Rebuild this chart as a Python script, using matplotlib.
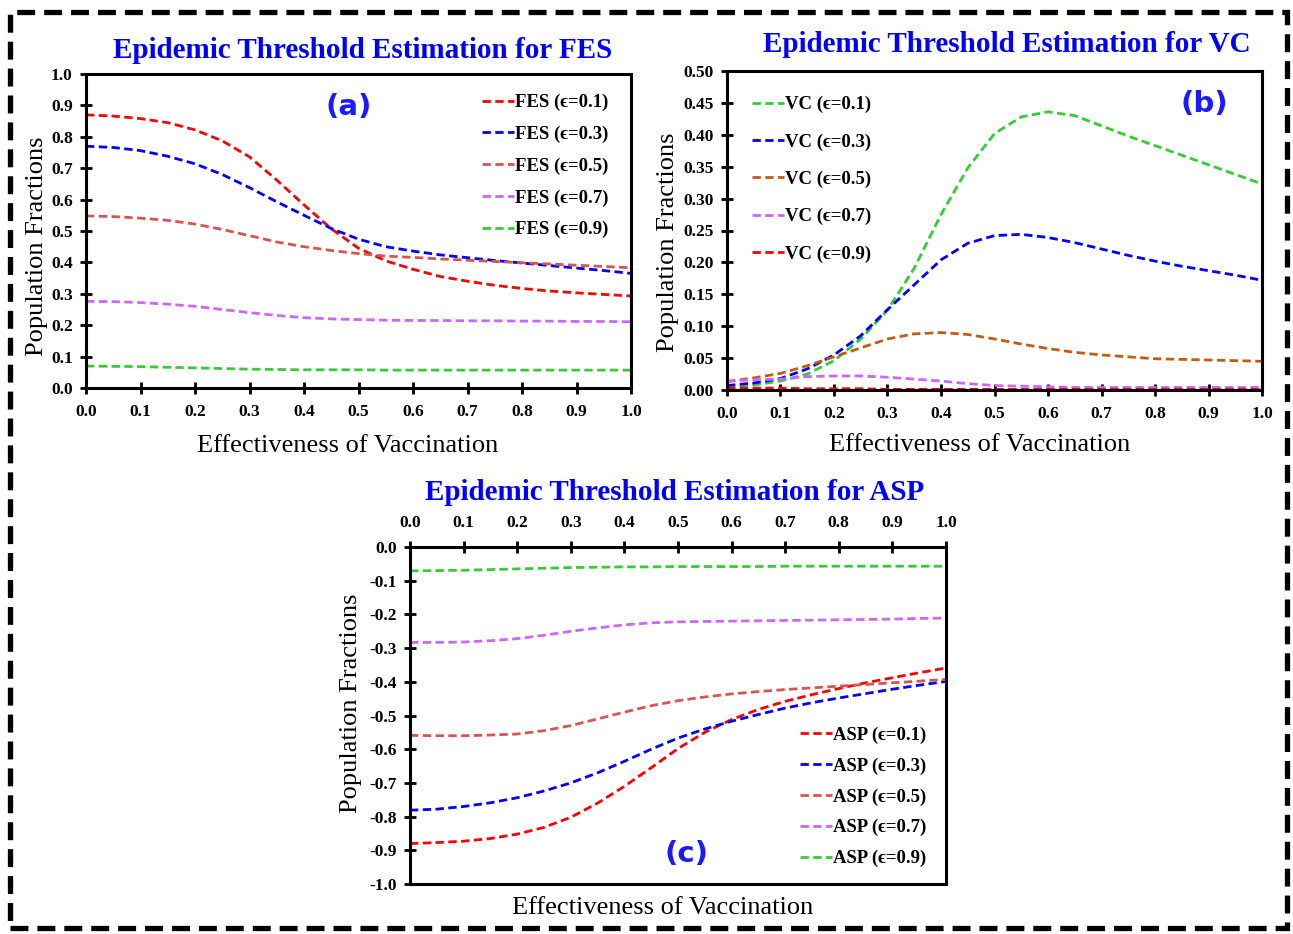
import matplotlib
matplotlib.use("Agg")
import matplotlib.pyplot as plt
from matplotlib.patches import Rectangle
import numpy as np

plt.rcParams["font.family"] = ["Liberation Serif", "DejaVu Serif"]
plt.rcParams["font.weight"] = "bold"
plt.rcParams["axes.unicode_minus"] = False

# effectiveness of vaccination (x), step 0.05
x = [0.00, 0.05, 0.10, 0.15, 0.20, 0.25, 0.30, 0.35, 0.40, 0.45, 0.50,
     0.55, 0.60, 0.65, 0.70, 0.75, 0.80, 0.85, 0.90, 0.95, 1.00]
eps_labels = ["0.1", "0.3", "0.5", "0.7", "0.9"]

# (a) FES
fes_01 = [0.870, 0.866, 0.858, 0.845, 0.822, 0.787, 0.736, 0.662, 0.583, 0.507, 0.445,
          0.405, 0.378, 0.355, 0.340, 0.327, 0.317, 0.309, 0.303, 0.298, 0.293]
fes_03 = [0.770, 0.766, 0.756, 0.738, 0.714, 0.680, 0.638, 0.593, 0.550, 0.508, 0.474,
          0.450, 0.436, 0.424, 0.415, 0.406, 0.398, 0.390, 0.382, 0.374, 0.365]
fes_05 = [0.548, 0.546, 0.541, 0.534, 0.522, 0.505, 0.485, 0.465, 0.450, 0.438, 0.428,
          0.420, 0.416, 0.411, 0.407, 0.403, 0.399, 0.395, 0.391, 0.387, 0.383]
fes_07 = [0.276, 0.275, 0.272, 0.267, 0.260, 0.250, 0.240, 0.231, 0.224, 0.220, 0.218,
          0.216, 0.215, 0.215, 0.214, 0.214, 0.213, 0.213, 0.212, 0.212, 0.211]
fes_09 = [0.070, 0.069, 0.068, 0.066, 0.064, 0.062, 0.060, 0.059, 0.058, 0.058, 0.058,
          0.057, 0.057, 0.057, 0.057, 0.057, 0.057, 0.057, 0.057, 0.057, 0.057]

# (b) VC
vc_01 = [0.005, 0.008, 0.014, 0.025, 0.046, 0.080, 0.125, 0.191, 0.275, 0.348, 0.402,
         0.428, 0.436, 0.430, 0.414, 0.398, 0.383, 0.368, 0.353, 0.338, 0.323]
vc_03 = [0.007, 0.011, 0.018, 0.033, 0.055, 0.085, 0.126, 0.165, 0.204, 0.230, 0.242,
         0.244, 0.239, 0.231, 0.221, 0.211, 0.202, 0.194, 0.187, 0.180, 0.172]
vc_05 = [0.013, 0.019, 0.026, 0.038, 0.052, 0.066, 0.080, 0.088, 0.090, 0.087, 0.080,
         0.072, 0.065, 0.059, 0.055, 0.052, 0.049, 0.048, 0.047, 0.046, 0.045]
vc_07 = [0.014, 0.016, 0.017, 0.021, 0.022, 0.022, 0.020, 0.017, 0.014, 0.010, 0.007,
         0.006, 0.005, 0.004, 0.004, 0.004, 0.004, 0.004, 0.004, 0.004, 0.004]
vc_09 = [0.003, 0.003, 0.003, 0.002, 0.002, 0.002, 0.001, 0.001, 0.001, 0.001, 0.001,
         0.001, 0.001, 0.001, 0.001, 0.001, 0.001, 0.001, 0.001, 0.001, 0.001]

# (c) ASP
asp_01 = [-0.880, -0.877, -0.873, -0.865, -0.852, -0.832, -0.802, -0.760, -0.710, -0.655, -0.598,
          -0.550, -0.512, -0.482, -0.458, -0.438, -0.420, -0.403, -0.388, -0.373, -0.359]
asp_03 = [-0.781, -0.778, -0.770, -0.759, -0.744, -0.724, -0.700, -0.670, -0.636, -0.600, -0.567,
          -0.540, -0.517, -0.497, -0.478, -0.462, -0.448, -0.435, -0.422, -0.410, -0.399]
asp_05 = [-0.559, -0.560, -0.560, -0.558, -0.555, -0.545, -0.530, -0.510, -0.490, -0.471, -0.456,
          -0.445, -0.436, -0.429, -0.423, -0.418, -0.413, -0.408, -0.403, -0.398, -0.393]
asp_07 = [-0.283, -0.283, -0.282, -0.278, -0.272, -0.262, -0.250, -0.240, -0.231, -0.225, -0.222,
          -0.221, -0.220, -0.219, -0.218, -0.217, -0.216, -0.215, -0.214, -0.212, -0.211]
asp_09 = [-0.071, -0.070, -0.069, -0.067, -0.065, -0.063, -0.061, -0.060, -0.059, -0.059, -0.058,
          -0.058, -0.058, -0.058, -0.057, -0.057, -0.057, -0.057, -0.057, -0.057, -0.057]

c_red, c_blue, c_ired, c_viol, c_green, c_brown = "#FF0000", "#0000FF", "#D9534F", "#CC66FF", "#33CC33", "#C55A11"
lw = 2.0
dash = (3, 1.6)
serif = ["Liberation Serif", "DejaVu Serif"]

fig = plt.figure(figsize=(12.93, 9.34), dpi=100)

# dashed border around everything
fig.patches.append(Rectangle((10 / 1293, 1 - 928 / 934), 1277 / 1293, 916 / 934,
                             transform=fig.transFigure, fill=False, ec="black",
                             lw=3.8, ls=(0, (3.4, 1.7))))


def fmt(v, pattern):
    s = pattern.format(v)
    return s.lstrip("-") if float(s) == 0 else s


def style_axes(ax, yticks, yfmt, xpad, ypad, xshift, yshift):
    for s in ax.spines.values():
        s.set_linewidth(2.2)
    xt = np.round(np.arange(0, 1.01, 0.1), 1)
    ax.set_xlim(0, 1)
    ax.set_xticks(xt)
    ax.set_xticklabels([fmt(v, "{:.1f}") for v in xt])
    ax.set_yticks(yticks)
    ax.set_yticklabels([fmt(v, yfmt) for v in yticks])
    ax.tick_params(direction="inout", length=8, width=2, labelsize=12.5)
    ax.tick_params(axis="x", pad=7.5)
    ax.tick_params(axis="y", pad=5.5)
    ax.set_ylabel("Population Fractions", fontsize=19, fontweight="normal", labelpad=ypad)
    ax.set_xlabel("Effectiveness of Vaccination", fontsize=19, fontweight="normal",
                  labelpad=xpad)
    ax.xaxis.label.set_x(0.5 + xshift)
    ax.yaxis.label.set_y(0.5 + yshift)


def draw(ax, series, colors, prefix):
    for ys, col, e in zip(series, colors, eps_labels):
        ax.plot(x, ys, color=col, lw=lw, ls="--", dashes=dash, label=f"{prefix} (\u03f5={e})")


def legend(ax, loc, anchor, spacing):
    ax.legend(loc=loc, bbox_to_anchor=anchor, labelspacing=spacing, frameon=False,
              handlelength=1.7, handletextpad=0.05,
              prop={"weight": "bold", "size": 13.5, "family": serif})


def panel_tag(ax, px, py, tag):
    ax.text(px, py, tag, transform=ax.transAxes, color="#1A1AFF", fontsize=21,
            fontweight="bold", family="DejaVu Sans", ha="center", va="center")


# (a)
axa = fig.add_axes([86 / 1293, 1 - 388 / 934, 545 / 1293, 314 / 934])
draw(axa, [fes_01, fes_03, fes_05, fes_07, fes_09], [c_red, c_blue, c_ired, c_viol, c_green], "FES")
axa.set_ylim(0, 1.0)
style_axes(axa, np.round(np.arange(0, 1.01, 0.1), 1), "{:.1f}", 11, 2, -11 / 545, -15 / 314)
legend(axa, "upper right", (0.99, 0.99), 0.77)
panel_tag(axa, 0.482, 0.895, "(a)")

# (b)
axb = fig.add_axes([727 / 1293, 1 - 390 / 934, 535 / 1293, 319 / 934])
draw(axb, [vc_01, vc_03, vc_05, vc_07, vc_09], [c_green, c_blue, c_brown, c_viol, c_red], "VC")
axb.set_ylim(0, 0.5)
style_axes(axb, np.round(np.arange(0, 0.501, 0.05), 2), "{:.2f}", 9, 3, -15 / 535, -12 / 319)
legend(axb, "upper left", (0.015, 0.975), 1.07)
panel_tag(axb, 0.892, 0.895, "(b)")

# (c)
axc = fig.add_axes([410 / 1293, 1 - 884 / 934, 536 / 1293, 337 / 934])
draw(axc, [asp_01, asp_03, asp_05, asp_07, asp_09], [c_red, c_blue, c_ired, c_viol, c_green], "ASP")
axc.set_ylim(-1.0, 0)
style_axes(axc, np.round(np.arange(-1.0, 0.001, 0.1), 1), "{:.1f}", 9, 5, -15 / 536, 12 / 337)
axc.xaxis.tick_top()
axc.xaxis.set_label_position("bottom")
legend(axc, "lower right", (0.995, 0.0), 0.72)
panel_tag(axc, 0.515, 0.09, "(c)")

# titles
for tx, ty, name in [(363, 50, "FES"), (1007, 45, "VC"), (675, 492, "ASP")]:
    fig.text(tx / 1293, 1 - ty / 934, f"Epidemic Threshold Estimation for {name}",
             color="#0000FF", fontsize=21, fontweight="bold", ha="center", va="center")

fig.savefig("out.png", dpi=100)
